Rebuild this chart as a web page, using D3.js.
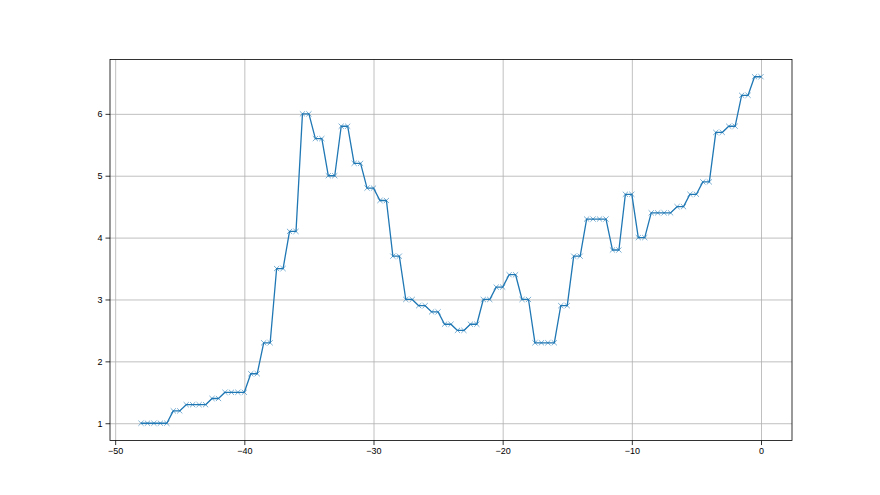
<!DOCTYPE html>
<html>
<head>
<meta charset="utf-8">
<script src="https://cdn.jsdelivr.net/npm/d3@7"></script>
<style>
  body { margin: 0; background: #fff; }
  svg { font-family: "DejaVu Sans", sans-serif; }
  .grid line { stroke: #b0b0b0; stroke-width: 0.8; }
  .grid path { display: none; }
  .axis text { font-size: 9px; fill: #000; }
  .axis line { stroke: #000; stroke-width: 0.8; }
  .axis path { display: none; }
</style>
</head>
<body>
<svg class="chart"></svg>
<script>
let xValues = [
  -48, -47.5, -47, -46.5, -46, -45.5, -45, -44.5, -44, -43.5, -43, -42.5, -42,
  -41.5, -41, -40.5, -40, -39.5, -39, -38.5, -38, -37.5, -37, -36.5, -36,
  -35.5, -35, -34.5, -34, -33.5, -33, -32.5, -32, -31.5, -31, -30.5, -30,
  -29.5, -29, -28.5, -28, -27.5, -27, -26.5, -26, -25.5, -25, -24.5, -24,
  -23.5, -23, -22.5, -22, -21.5, -21, -20.5, -20, -19.5, -19, -18.5, -18,
  -17.5, -17, -16.5, -16, -15.5, -15, -14.5, -14, -13.5, -13, -12.5, -12,
  -11.5, -11, -10.5, -10, -9.5, -9, -8.5, -8, -7.5, -7, -6.5, -6,
  -5.5, -5, -4.5, -4, -3.5, -3, -2.5, -2, -1.5, -1, -0.5, 0
];
let yValues = [
  1, 1, 1, 1, 1, 1.2, 1.2, 1.3, 1.3, 1.3, 1.3, 1.4, 1.4,
  1.5, 1.5, 1.5, 1.5, 1.8, 1.8, 2.3, 2.3, 3.5, 3.5, 4.1, 4.1,
  6.0, 6.0, 5.6, 5.6, 5.0, 5.0, 5.8, 5.8, 5.2, 5.2, 4.8, 4.8,
  4.6, 4.6, 3.7, 3.7, 3.0, 3.0, 2.9, 2.9, 2.8, 2.8, 2.6, 2.6,
  2.5, 2.5, 2.6, 2.6, 3.0, 3.0, 3.2, 3.2, 3.4, 3.4, 3.0, 3.0,
  2.3, 2.3, 2.3, 2.3, 2.9, 2.9, 3.7, 3.7, 4.3, 4.3, 4.3, 4.3,
  3.8, 3.8, 4.7, 4.7, 4.0, 4.0, 4.4, 4.4, 4.4, 4.4, 4.5, 4.5,
  4.7, 4.7, 4.9, 4.9, 5.7, 5.7, 5.8, 5.8, 6.3, 6.3, 6.6, 6.6
];
let xTicks = [-50, -40, -30, -20, -10, 0];
let yTicks = [1, 2, 3, 4, 5, 6];

let W = 880, H = 495;
let margin = { top: 59.4, right: 88, bottom: 54.45, left: 110 };
let width = W - margin.left - margin.right;
let height = H - margin.top - margin.bottom;

let data = xValues.map( (x, i) => [x, yValues[i]] );

// matplotlib style 5% padding
let xExt = d3.extent( xValues ), yExt = d3.extent( yValues );
let xPad = ( xExt[1] - xExt[0] ) * 0.05, yPad = ( yExt[1] - yExt[0] ) * 0.05;

let x = d3.scaleLinear()
    .domain( [xExt[0] - xPad, xExt[1] + xPad] )
    .range( [0, width] );

let y = d3.scaleLinear()
    .domain( [yExt[0] - yPad, yExt[1] + yPad] )
    .range( [height, 0] );

let svg = d3.select( '.chart' )
    .attr( 'width', W )
    .attr( 'height', H );

let chart = svg.append( 'g' )
    .attr( 'transform', 'translate(' + margin.left + ',' + margin.top + ')' );

// grid
chart.append( 'g' )
    .attr( 'class', 'grid' )
    .attr( 'transform', 'translate(0,' + height + ')' )
    .call( d3.axisBottom( x ).tickValues( xTicks ).tickSize( -height ).tickFormat( '' ) );

chart.append( 'g' )
    .attr( 'class', 'grid' )
    .call( d3.axisLeft( y ).tickValues( yTicks ).tickSize( -width ).tickFormat( '' ) );

// line
let line = d3.line()
    .x( d => x( d[0] ) )
    .y( d => y( d[1] ) );

chart.append( 'path' )
    .datum( data )
    .attr( 'fill', 'none' )
    .attr( 'stroke', '#1f77b4' )
    .attr( 'stroke-width', 1.3 )
    .attr( 'stroke-linejoin', 'round' )
    .attr( 'd', line );

// x markers
let m = 2.6;
chart.append( 'g' )
    .selectAll( 'path' )
    .data( data )
  .enter().append( 'path' )
    .attr( 'transform', d => 'translate(' + x( d[0] ) + ',' + y( d[1] ) + ')' )
    .attr( 'd', 'M' + (-m) + ',' + (-m) + 'L' + m + ',' + m + 'M' + (-m) + ',' + m + 'L' + m + ',' + (-m) )
    .attr( 'stroke', '#1f77b4' )
    .attr( 'stroke-opacity', 0.75 )
    .attr( 'stroke-width', 0.8 )
    .attr( 'fill', 'none' );

// axes
let minus = d => ( d < 0 ? '\u2212' + Math.abs( d ) : '' + d );

chart.append( 'g' )
    .attr( 'class', 'axis' )
    .attr( 'transform', 'translate(0,' + height + ')' )
    .call( d3.axisBottom( x ).tickValues( xTicks ).tickSize( 4.5 ).tickPadding( 3 ).tickFormat( minus ) );

chart.append( 'g' )
    .attr( 'class', 'axis' )
    .call( d3.axisLeft( y ).tickValues( yTicks ).tickSize( 4.5 ).tickPadding( 3 ).tickFormat( minus ) );

// frame
chart.append( 'rect' )
    .attr( 'width', width )
    .attr( 'height', height )
    .attr( 'fill', 'none' )
    .attr( 'stroke', '#000' )
    .attr( 'stroke-width', 0.8 );
</script>
</body>
</html>
